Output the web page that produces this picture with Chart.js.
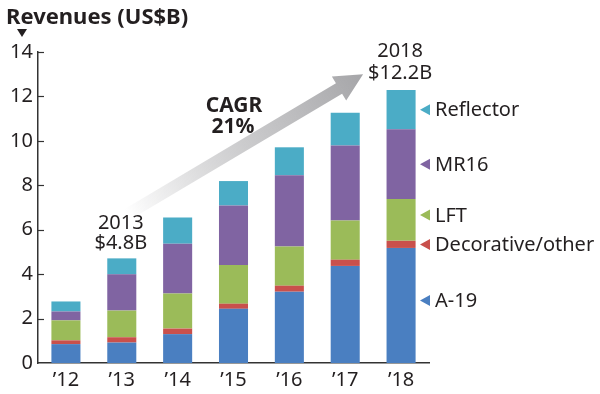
<!DOCTYPE html>
<html><head><meta charset="utf-8">
<script src="https://cdn.jsdelivr.net/npm/chart.js@4"></script>
<style>html,body{margin:0;padding:0;background:#fff}#wrap{width:600px;height:394px;position:relative}</style>
</head><body><div id="wrap"><canvas id="c"></canvas></div>
<script>
const categories = ["\u201912","\u201913","\u201914","\u201915","\u201916","\u201917","\u201918"];
const a19        = [0.85, 0.92, 1.30, 2.44, 3.21, 4.37, 5.18];
const decorative = [0.17, 0.24, 0.25, 0.23, 0.27, 0.28, 0.32];
const lft        = [0.90, 1.20, 1.58, 1.74, 1.76, 1.76, 1.88];
const mr16       = [0.40, 1.63, 2.24, 2.68, 3.21, 3.38, 3.14];
const reflector  = [0.45, 0.72, 1.18, 1.10, 1.26, 1.47, 1.77];
const seriesNames = ["A-19", "Decorative/other", "LFT", "MR16", "Reflector"];
const yTicks = [0, 2, 4, 6, 8, 10, 12, 14];
const titleText = "Revenues (US$B)";
const startNote = ["2013", "$4.8B"];
const endNote = ["2018", "$12.2B"];
const cagrNote = ["CAGR", "21%"];

const colors = ["#4a7fc1", "#c9504c", "#9bbb59", "#8064a2", "#4bacc6"];
const FONT = "'Noto Sans', 'Open Sans', sans-serif";
const TXT = "#231f20";

const seriesData = [a19, decorative, lft, mr16, reflector];

const overlay = {
  id: 'overlay',
  afterDraw(chart) {
    const ctx = chart.ctx;
    const xs = chart.scales.x, ys = chart.scales.y;
    const ca = chart.chartArea;
    ctx.save();
    // inner tick marks on y axis
    ctx.strokeStyle = "#333";
    ctx.lineWidth = 1.2;
    yTicks.forEach(v => {
      const y = Math.round(ys.getPixelForValue(v)) + 0.5;
      if (v === 0) return;
      ctx.beginPath(); ctx.moveTo(ca.left, y); ctx.lineTo(ca.left + 6, y); ctx.stroke();
    });
    // title
    ctx.fillStyle = TXT;
    ctx.font = "bold 22px " + FONT;
    ctx.textAlign = "left"; ctx.textBaseline = "middle";
    ctx.fillText(titleText, 6, 18);
    ctx.beginPath(); ctx.moveTo(17, 29); ctx.lineTo(27, 29); ctx.lineTo(22, 37); ctx.closePath(); ctx.fill();

    // arrow
    const sx = xs.getPixelForValue(1) + 6, sy = ys.getPixelForValue(6.7);
    const ex = xs.getPixelForValue(5.32), ey = ys.getPixelForValue(13.0);
    const dx = ex - sx, dy = ey - sy, L = Math.hypot(dx, dy);
    const ux = dx / L, uy = dy / L, nx = -uy, ny = ux;
    const hw = 6, hl = 28, hh = 14;
    const bx = ex - ux * hl, by = ey - uy * hl;
    const g = ctx.createLinearGradient(sx, sy, ex, ey);
    g.addColorStop(0, "rgba(175,175,178,0)");
    g.addColorStop(0.5, "rgba(190,190,192,0.8)");
    g.addColorStop(1, "rgba(165,165,168,1)");
    ctx.fillStyle = g;
    ctx.beginPath();
    ctx.moveTo(sx + nx * hw, sy + ny * hw);
    ctx.lineTo(bx + nx * hw, by + ny * hw);
    ctx.lineTo(bx + nx * hh, by + ny * hh);
    ctx.lineTo(ex, ey);
    ctx.lineTo(bx - nx * hh, by - ny * hh);
    ctx.lineTo(bx - nx * hw, by - ny * hw);
    ctx.lineTo(sx - nx * hw, sy - ny * hw);
    ctx.closePath(); ctx.fill();

    // notes
    ctx.fillStyle = TXT;
    ctx.textAlign = "center"; ctx.textBaseline = "middle";
    ctx.font = "20px " + FONT;
    const x13 = xs.getPixelForValue(1) - 1;
    ctx.fillText(startNote[0], x13, 223);
    ctx.fillText(startNote[1], x13, 243);
    const x18 = xs.getPixelForValue(6) - 1;
    ctx.fillText(endNote[0], x18, 51);
    ctx.fillText(endNote[1], x18, 73);
    ctx.font = "bold 21px " + FONT;
    ctx.fillText(cagrNote[0], 234, 106);
    ctx.fillText(cagrNote[1], 233, 127);

    // legend labels next to last bar
    const last = categories.length - 1;
    let cum = 0;
    const legY = [];
    seriesData.forEach((arr, i) => {
      const lo = cum, hi = cum + arr[last];
      cum = hi;
      legY.push(ys.getPixelForValue((lo + hi) / 2));
    });
    legY[2] -= 5; legY[0] -= 5;
    ctx.font = "20px " + FONT;
    ctx.textAlign = "left";
    seriesNames.forEach((name, i) => {
      const y = legY[i];
      ctx.fillStyle = colors[i];
      ctx.beginPath(); ctx.moveTo(420, y); ctx.lineTo(430, y - 5.5); ctx.lineTo(430, y + 5.5); ctx.closePath(); ctx.fill();
      ctx.fillStyle = TXT;
      ctx.fillText(name, 435, y + 1);
    });
    ctx.restore();
  }
};

new Chart(document.getElementById('c'), {
  type: 'bar',
  data: {
    labels: categories,
    datasets: seriesData.map((d, i) => ({
      label: seriesNames[i], data: d, backgroundColor: colors[i],
      borderWidth: 0, barPercentage: 0.52, categoryPercentage: 1.0
    }))
  },
  options: {
    responsive: true, maintainAspectRatio: false, animation: false,
    devicePixelRatio: 1,
    layout: { padding: { left: 8, right: 171, top: 52, bottom: 0 } },
    plugins: { legend: { display: false }, tooltip: { enabled: false } },
    scales: {
      x: {
        stacked: true,
        grid: { display: false, drawTicks: false },
        border: { display: true, color: "#333", width: 1.5 },
        ticks: { color: TXT, font: { family: FONT, size: 20 }, padding: 5 },
        afterFit(s) { s.height = 31; }
      },
      y: {
        stacked: true, min: 0, max: 14,
        grid: { display: false, drawTicks: false },
        border: { display: true, color: "#333", width: 1.5 },
        ticks: { stepSize: 2, color: TXT, font: { family: FONT, size: 20 }, padding: 5,
                 callback: v => yTicks.includes(v) ? String(v) : null },
        afterFit(s) { s.width = 30; }
      }
    }
  },
  plugins: [overlay]
});
</script></body></html>
